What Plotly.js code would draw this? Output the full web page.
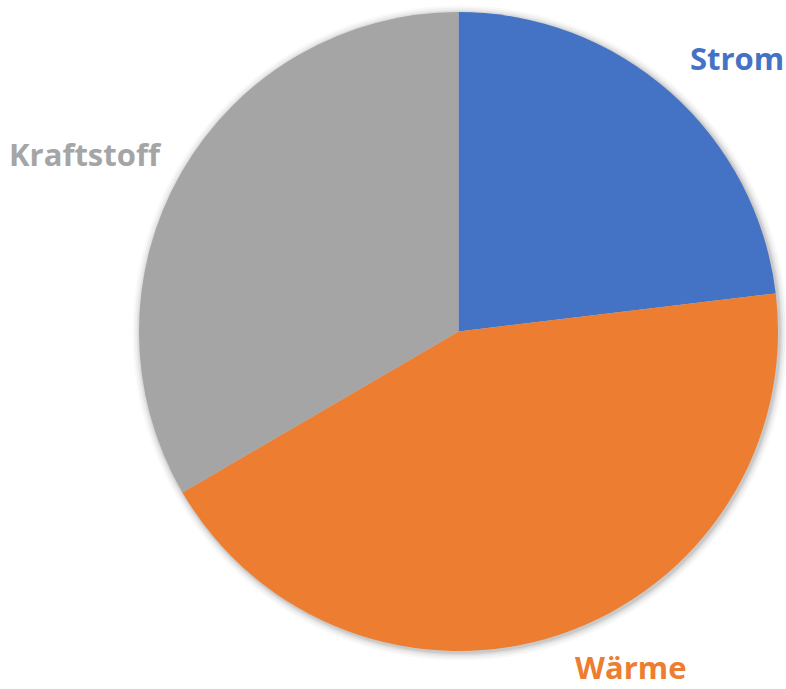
<!DOCTYPE html>
<html>
<head>
<meta charset="utf-8">
<script src="https://cdn.plot.ly/plotly-3.0.1.min.js"></script>
<style>html,body{margin:0;padding:0;background:#fff;}#chart{width:786px;height:689px;}</style>
</head>
<body>
<div id="chart"></div>
<script>
const labels = ["Strom", "Wärme", "Kraftstoff"];
const values = [23.1, 43.5, 33.4];
const colors = ["#4472C4", "#ED7D31", "#A5A5A5"];

const W = 786, H = 689;
const cx = 458.5, cy = 331.5, R = 319.5;
// label anchor points (pixels) and vertical anchors
const labelPos = [[737, 58, 'middle'], [631, 689, 'bottom'], [85, 154, 'middle']];

function px(x){return x / W;}
function py(y){return 1 - y / H;}

const shapes = [];
const rings = [[8,0.025],[6,0.035],[4,0.045],[2.5,0.055],[1.2,0.065]];
rings.forEach(function(r){
  const rr = R + r[0];
  shapes.push({type:'circle', xref:'paper', yref:'paper', layer:'below',
    x0:px(cx - rr + 1.5), x1:px(cx + rr + 1.5), y0:py(cy + rr + 1.5), y1:py(cy - rr + 1.5),
    line:{width:0}, fillcolor:'rgba(0,0,0,' + r[1] + ')'});
});

const annotations = labels.map(function(l, i){
  return {text:'<b>' + l + '</b>', xref:'paper', yref:'paper',
    x:px(labelPos[i][0]), y:py(labelPos[i][1]), xanchor:'center', yanchor:labelPos[i][2],
    showarrow:false, borderpad:0, font:{family:'Open Sans', size:31, color:colors[i]}};
});

const trace = {
  type:'pie', labels:labels, values:values, sort:false, direction:'clockwise', rotation:0,
  marker:{colors:colors, line:{width:0}}, textinfo:'none', hoverinfo:'label+percent',
  domain:{x:[px(cx - R), px(cx + R)], y:[py(cy + R), py(cy - R)]}
};

Plotly.newPlot('chart', [trace], {
  width:W, height:H, margin:{l:0,r:0,t:0,b:0}, showlegend:false,
  paper_bgcolor:'#ffffff', plot_bgcolor:'#ffffff',
  shapes:shapes, annotations:annotations
}, {staticPlot:true});
</script>
</body>
</html>
